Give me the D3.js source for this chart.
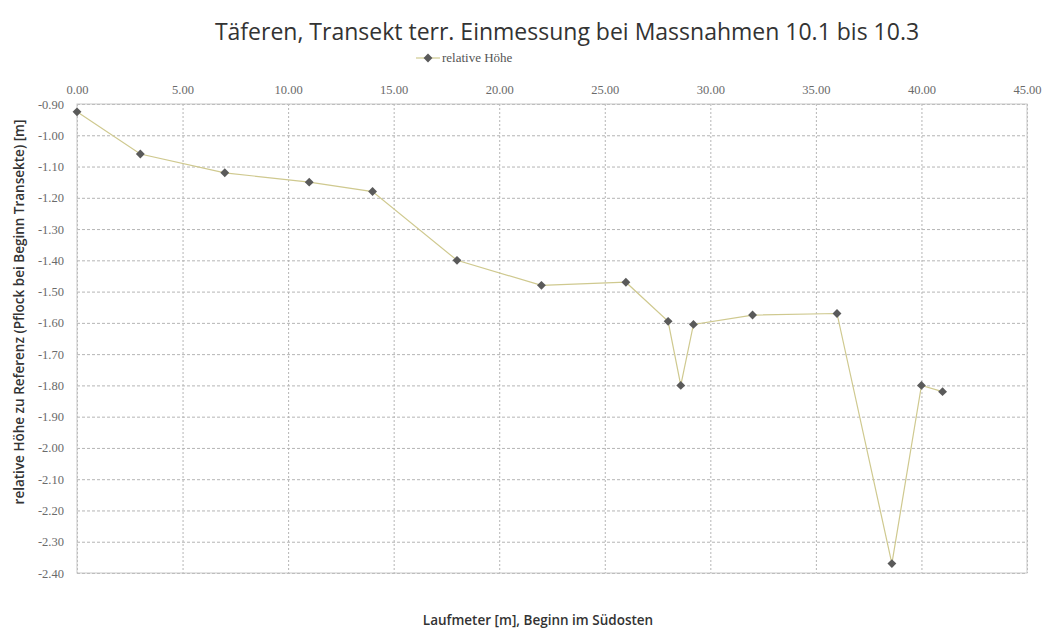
<!DOCTYPE html>
<html>
<head>
<meta charset="utf-8">
<script src="https://cdn.jsdelivr.net/npm/d3@7"></script>
<style>
  body { margin: 0; background: #fff; }
  svg { display: block; }
  .tick text { font-family: "Liberation Serif", "DejaVu Serif", serif; }
</style>
</head>
<body>
<svg id="chart" width="1048" height="631"></svg>
<script>
// Laufmeter [m]
const laufmeter = [0, 3, 7, 11, 14, 18, 22, 26, 28, 28.6, 29.2, 32, 36, 38.6, 40, 41];
// relative Höhe [m]
const hoehe = [-0.925, -1.06, -1.12, -1.15, -1.18, -1.40, -1.48, -1.47, -1.595, -1.80, -1.605, -1.575, -1.57, -2.37, -1.80, -1.82];
const xTicks = [0, 5, 10, 15, 20, 25, 30, 35, 40, 45];
const yTicks = [-0.9, -1.0, -1.1, -1.2, -1.3, -1.4, -1.5, -1.6, -1.7, -1.8, -1.9, -2.0, -2.1, -2.2, -2.3, -2.4];

const titleText = "Täferen, Transekt terr. Einmessung bei Massnahmen 10.1 bis 10.3";
const legendText = "relative Höhe";
const xTitle = "Laufmeter [m], Beginn im Südosten";
const yTitle = "relative Höhe zu Referenz (Pflock bei Beginn Transekte) [m]";

const data = laufmeter.map((d, i) => ({ x: d, y: hoehe[i] }));
const fmt = d => d.toFixed(2); // plain hyphen minus like the original

const svg = d3.select("#chart");
const margin = { top: 104, left: 77, right: 21, bottom: 58 };
const width = 1048, height = 631;
const innerWidth = width - margin.left - margin.right;
const innerHeight = height - margin.top - margin.bottom;

const xScale = d3.scaleLinear().domain([0, 45]).range([0, innerWidth]);
const yScale = d3.scaleLinear().domain([-0.9, -2.4]).range([0, innerHeight]);

const g = svg.append("g").attr("transform", `translate(${margin.left},${margin.top})`);

// gridlines
g.append("g")
  .attr("class", "grid")
  .call(d3.axisTop(xScale).tickValues(xTicks).tickSize(-innerHeight).tickFormat(""))
  .call(s => s.select(".domain").remove())
  .selectAll("line")
  .attr("stroke", "#b5b5b5")
  .attr("stroke-dasharray", "2,2");

g.append("g")
  .attr("class", "grid")
  .call(d3.axisLeft(yScale).tickValues(yTicks).tickSize(-innerWidth).tickFormat(""))
  .call(s => s.select(".domain").remove())
  .selectAll("line")
  .attr("stroke", "#b5b5b5")
  .attr("stroke-dasharray", "3,2");

// plot frame
g.append("rect")
  .attr("width", innerWidth)
  .attr("height", innerHeight)
  .attr("fill", "none")
  .attr("stroke", "#c8c8c8");

// axes
const xAxis = g.append("g")
  .call(d3.axisTop(xScale).tickValues(xTicks).tickSize(0).tickPadding(10).tickFormat(fmt));
xAxis.select(".domain").remove();
xAxis.selectAll("text")
  .attr("font-size", 12.5)
  .attr("fill", "#6a6a6a");

const yAxis = g.append("g")
  .call(d3.axisLeft(yScale).tickValues(yTicks).tickSize(0).tickPadding(13).tickFormat(fmt));
yAxis.select(".domain").remove();
yAxis.selectAll("text")
  .attr("font-size", 12.5)
  .attr("fill", "#6a6a6a");

// line + markers
const line = d3.line().x(d => xScale(d.x)).y(d => yScale(d.y));
g.append("path")
  .datum(data)
  .attr("d", line)
  .attr("fill", "none")
  .attr("stroke", "#cfc98f")
  .attr("stroke-width", 1.2);

const diamond = d3.symbol().type(d3.symbolDiamond2).size(50);
g.selectAll(".pt")
  .data(data)
  .enter()
  .append("path")
  .attr("class", "pt")
  .attr("d", diamond)
  .attr("transform", d => `translate(${xScale(d.x)},${yScale(d.y)})`)
  .attr("fill", "#5a5a5a");

// title
svg.append("text")
  .attr("x", 567)
  .attr("y", 40)
  .attr("text-anchor", "middle")
  .attr("font-family", "'Open Sans', sans-serif")
  .attr("font-size", 23)
  .attr("fill", "#333")
  .text(titleText);

// legend
const lg = svg.append("g").attr("transform", "translate(416,58)");
lg.append("line").attr("x1", 0).attr("x2", 24).attr("stroke", "#cfc98f").attr("stroke-width", 1.2);
lg.append("path").attr("d", diamond).attr("transform", "translate(12,0)").attr("fill", "#5a5a5a");
lg.append("text")
  .attr("x", 26)
  .attr("y", 4)
  .attr("font-family", "'Liberation Serif', serif")
  .attr("font-size", 13)
  .attr("fill", "#555")
  .text(legendText);

// axis titles
svg.append("text")
  .attr("x", 538)
  .attr("y", 625)
  .attr("text-anchor", "middle")
  .attr("font-family", "'Open Sans', sans-serif")
  .attr("font-weight", "600")
  .attr("font-size", 13.5)
  .attr("fill", "#333")
  .text(xTitle);

svg.append("text")
  .attr("transform", `translate(24,312)rotate(-90)`)
  .attr("text-anchor", "middle")
  .attr("font-family", "'Open Sans', sans-serif")
  .attr("font-weight", "600")
  .attr("font-size", 13.5)
  .attr("fill", "#333")
  .text(yTitle);
</script>
</body>
</html>
